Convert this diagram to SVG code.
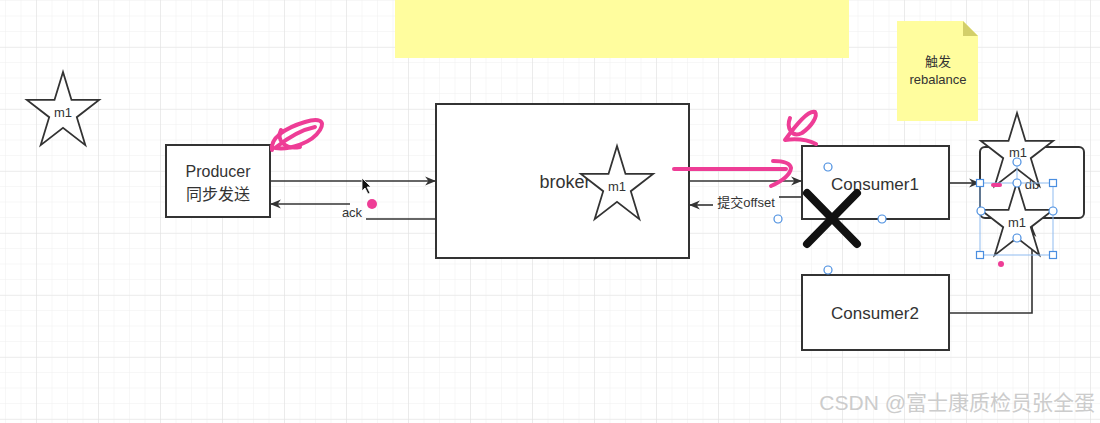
<svg xmlns="http://www.w3.org/2000/svg" width="1100" height="423" viewBox="0 0 1100 423">
<style>
.box{fill:#fff;stroke:#333;stroke-width:2}
.ln{fill:none;stroke:#333;stroke-width:1.6}
.star{fill:#fff;stroke:#333;stroke-width:1.8;stroke-linejoin:miter}
.t{font-family:"Liberation Sans","Noto Sans CJK SC",sans-serif;fill:#333;text-anchor:middle}
.pink{fill:none;stroke:#ee3d96;stroke-width:4;stroke-linecap:round;stroke-linejoin:round}
.h{fill:#fff;stroke:#4a8ee0;stroke-width:1.2}
.sel{fill:none;stroke:#8fbbf0;stroke-width:1}
</style>
<defs>
<pattern id="gmin" width="15.5" height="15.5" patternUnits="userSpaceOnUse" x="5" y="0">
<path d="M0,0H15.5M0,0V15.5" fill="none" stroke="#efefef" stroke-width="1"/>
</pattern>
<pattern id="gmaj" width="62" height="62" patternUnits="userSpaceOnUse" x="36" y="47">
<path d="M0,0H62M0,0V62" fill="none" stroke="#e3e3e3" stroke-width="1.2"/>
</pattern>
<path id="star" d="M0,-40.4 L8.5,-12.5 L36.1,-12.5 L13.8,4.8 L22.3,32.7 L0,15.4 L-22.3,32.7 L-13.8,4.8 L-36.1,-12.5 L-8.5,-12.5 Z"/>
<marker id="arr" viewBox="0 0 10 10" refX="9" refY="5" markerWidth="11" markerHeight="11" markerUnits="userSpaceOnUse" orient="auto">
<path d="M0,1 L10,5 L0,9 L3,5 Z" fill="#333"/>
</marker>
</defs>
<rect width="1100" height="423" fill="#fff"/>
<rect width="1100" height="423" fill="url(#gmin)"/>
<rect width="1100" height="423" fill="url(#gmaj)"/>

<rect x="395" y="0" width="454" height="58" fill="#fffd9e"/>

<g id="note">
<path d="M897,21 H963 L978,36 V121 H897 Z" fill="#fffd9e"/>
<path d="M963,21 L978,36 H963 Z" fill="#d3cf6a"/>
<text class="t" x="938" y="66" font-size="13">触发</text>
<text class="t" x="938" y="84" font-size="13">rebalance</text>
</g>

<g id="star-left">
<use href="#star" x="63" y="112.4" class="star"/>
<text class="t" x="63" y="117" font-size="13">m1</text>
</g>

<g id="producer">
<rect class="box" x="166" y="145" width="104" height="72"/>
<text class="t" x="218" y="177" font-size="16">Producer</text>
<text class="t" x="218" y="200" font-size="16">同步发送</text>
</g>

<g id="broker">
<rect class="box" x="436" y="104" width="253" height="154"/>
<text class="t" x="565" y="188" font-size="18">broker</text>
<use href="#star" x="617" y="186.4" class="star"/>
<text class="t" x="617" y="191" font-size="13">m1</text>
</g>

<g id="consumer1">
<rect class="box" x="802" y="146" width="147" height="73"/>
<text class="t" x="875" y="190" font-size="17">Consumer1</text>
</g>

<g id="consumer2">
<rect class="box" x="802" y="275" width="147" height="75"/>
<text class="t" x="875" y="319" font-size="17">Consumer2</text>
</g>

<g id="db">
<rect class="box" x="980" y="147" width="104" height="71" rx="5"/>
<text class="t" x="1032" y="189" font-size="13" fill="#555">db</text>
</g>

<g id="connectors">
<path class="ln" d="M270,181 H435" marker-end="url(#arr)"/>
<path class="ln" d="M436,219 H366"/>
<path class="ln" d="M350,204 H271" marker-end="url(#arr)"/>
<text class="t" x="352" y="217" font-size="13">ack</text>
<path class="ln" d="M689,181 H801" marker-end="url(#arr)"/>
<path class="ln" d="M801,197 H779"/>
<path class="ln" d="M713,205 H690" marker-end="url(#arr)"/>
<text class="t" x="746" y="207" font-size="13">提交offset</text>
<path class="ln" d="M949,183 H979" marker-end="url(#arr)"/>
<path class="ln" d="M949,313 H1032 V227" marker-end="url(#arr)"/>
</g>

<g id="db-stars">
<use href="#star" x="1017" y="153.4" class="star"/>
<text class="t" x="1018" y="157" font-size="13">m1</text>
<use href="#star" x="1017" y="222.4" class="star"/>
<text class="t" x="1017" y="227" font-size="13">m1</text>
</g>

<g id="selection">
<rect class="sel" x="980" y="183" width="73" height="72"/>
<line class="sel" x1="1017" y1="162" x2="1017" y2="183"/>
<rect class="h" x="976.5" y="179.5" width="7" height="7"/>
<rect class="h" x="1049.5" y="179.5" width="7" height="7"/>
<rect class="h" x="976.5" y="251.5" width="7" height="7"/>
<rect class="h" x="1049.5" y="251.5" width="7" height="7"/>
<circle class="h" cx="1017" cy="162" r="4"/>
<circle class="h" cx="1017" cy="183" r="4"/>
<circle class="h" cx="981" cy="211" r="4"/>
<circle class="h" cx="1053" cy="211" r="4"/>
<circle class="h" cx="1017" cy="238" r="4"/>
<circle class="h" cx="828" cy="167" r="4"/>
<circle class="h" cx="778" cy="219" r="4"/>
<circle class="h" cx="882" cy="219" r="4"/>
<circle class="h" cx="828" cy="270" r="4"/>
</g>

<g id="cross">
<path d="M807,193 L857,244 M857,193 L807,244" stroke="#111" stroke-width="8" stroke-linecap="round" fill="none"/>
</g>

<g id="annotations">
<path class="pink" d="M272,150 C270,138 285,128 305,122 C318,118 326,120 320,130 C312,143 290,150 275,148 C285,140 300,130 315,127"/>
<path class="pink" d="M281,130 C276,140 285,150 300,147"/>
<path class="pink" d="M790,118 C786,128 792,138 802,133 C812,126 818,116 815,112 C808,110 796,125 785,140 C800,138 808,140 816,144"/>
<path class="pink" d="M674,169 H786"/>
<path class="pink" d="M773,161 C782,161 790,163 791,168 C790,176 780,182 771,186"/>
<circle cx="372" cy="204" r="5" fill="#ee3d96"/>
<path class="pink" d="M993,185 H1000" stroke-width="4"/>
<circle cx="1001" cy="264" r="3" fill="#ee3d96"/>
</g>

<path d="M362,178 L362,191 L365,188 L368,194 L370,193 L367,187 L371,187 Z" fill="#111" stroke="#fff" stroke-width="0.8"/>

<text x="1095" y="410" font-family="Liberation Sans,'Noto Sans CJK SC',sans-serif" font-size="21" fill="#cccccc" text-anchor="end">CSDN @富士康质检员张全蛋</text>
</svg>
